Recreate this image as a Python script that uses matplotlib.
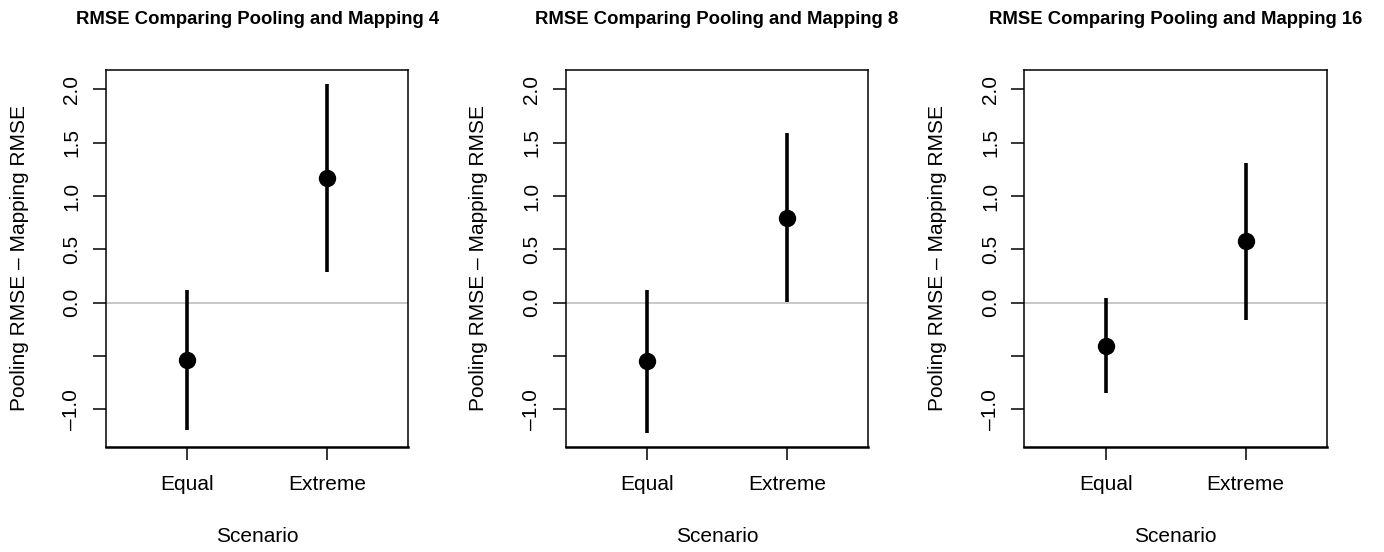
import matplotlib
matplotlib.use("Agg")
import matplotlib.pyplot as plt
import numpy as np

plt.rcParams["font.family"] = ["Liberation Sans", "DejaVu Sans"]

# ── Data ──────────────────────────────────────────────────────────────────────
mappings  = [4, 8, 16]
scenarios = ["Equal", "Extreme"]

est_equal   = [-0.54, -0.55, -0.41]
lo_equal    = [-1.19, -1.22, -0.85]
hi_equal    = [0.115, 0.12, 0.04]

est_extreme = [1.17, 0.79, 0.575]
lo_extreme  = [0.29, 0.005, -0.16]
hi_extreme  = [2.05, 1.59, 1.31]

yticks      = [-1.0, -0.5, 0.0, 0.5, 1.0, 1.5, 2.0]
yticklabels = ["\u20131.0", "", "0.0", "0.5", "1.0", "1.5", "2.0"]

# shared y range, R-style 4% padding
ymin = min(lo_equal + lo_extreme)
ymax = max(hi_equal + hi_extreme)
pad = 0.04 * (ymax - ymin)

fig = plt.figure(figsize=(13.84, 5.52), dpi=100)
lefts = [0.0764, 0.4087, 0.7401]

x = np.arange(1, len(scenarios) + 1)

for i, m in enumerate(mappings):
    ax = fig.add_axes([lefts[i], 0.1908, 0.2187, 0.6824])

    est = [est_equal[i], est_extreme[i]]
    lo  = [lo_equal[i], lo_extreme[i]]
    hi  = [hi_equal[i], hi_extreme[i]]

    ax.axhline(0, color="#bebebe", linewidth=1.2, zorder=1)
    ax.vlines(x, lo, hi, color="black", linewidth=2.6, zorder=2)
    ax.plot(x, est, "o", color="black", markersize=11.5, zorder=3)

    ax.set_xlim(0.5 - 0.08, 2.5 + 0.08)
    ax.set_ylim(ymin - pad, ymax + pad)

    ax.set_xticks(x)
    ax.set_xticklabels(scenarios, fontsize=15)
    ax.set_yticks(yticks)
    ax.set_yticklabels(yticklabels, fontsize=15, rotation=90, va="center")
    ax.tick_params(axis="both", length=9.5, width=1.1, color="black")
    ax.tick_params(axis="x", pad=11)
    ax.tick_params(axis="y", pad=8)

    for s in ax.spines.values():
        s.set_linewidth(1.1)
    ax.spines["bottom"].set_linewidth(1.8)

    ax.set_xlabel("Scenario", fontsize=15)
    ax.xaxis.set_label_coords(0.5, -0.213)
    ax.set_ylabel("Pooling RMSE \u2013 Mapping RMSE", fontsize=15)
    ax.yaxis.set_label_coords(-0.255, 0.5)

    ax.text(0.5, 1.135, f"RMSE Comparing Pooling and Mapping {m}",
            transform=ax.transAxes, ha="center", va="center",
            fontsize=13.3, fontweight="bold")

fig.savefig("out.png", dpi=100)
